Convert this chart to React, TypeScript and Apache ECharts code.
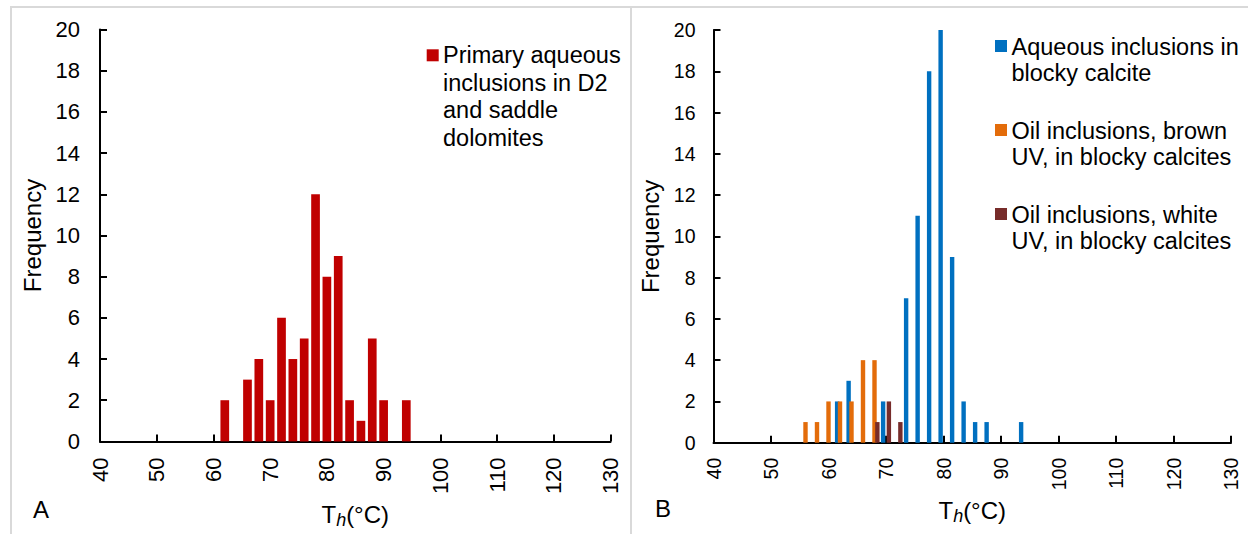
import React, { useEffect, useRef } from "react";
import * as echarts from "echarts";

// ---- Data (panel A) ----
const binsA = [62, 64, 66, 68, 70, 72, 74, 76, 78, 80, 82, 84, 86, 88, 90, 92, 94];
const countsA = [2, 0, 3, 4, 2, 6, 4, 5, 12, 8, 9, 2, 1, 5, 2, 0, 2];
const nameA = ["Primary aqueous", "inclusions in D2", "and saddle", "dolomites"];

// ---- Data (panel B) ----
const binsAqueous = [61.5, 63.5, 69.5, 73.5, 75.5, 77.5, 79.5, 81.5, 83.5, 85.5, 87.5, 93.5];
const countsAqueous = [2, 3, 2, 7, 11, 18, 20, 9, 2, 1, 1, 1];
const binsBrown = [56, 58, 60, 62, 64, 66, 68];
const countsBrown = [1, 1, 2, 2, 2, 4, 4];
const binsWhite = [68.5, 70.5, 72.5];
const countsWhite = [1, 2, 1];
const namesB = [
  ["Aqueous inclusions in", "blocky calcite"],
  ["Oil inclusions, brown", "UV, in blocky calcites"],
  ["Oil inclusions, white", "UV, in blocky calcites"],
];

// ---- Axes ----
const xMin = 40;
const xMax = 130;
const xStep = 10;
const yMin = 0;
const yMax = 20;
const yStep = 2;
const xTitle = "{a|T}{b|h}{a|(°C)}";
const yTitle = "Frequency";
const panelLabels = ["A", "B"];

const colorA = "#C00000";
const colorsB = ["#0070C0", "#E36C0A", "#772C2A"];
const FONT = "'Liberation Sans', Arial, sans-serif";

const pairs = (xs: number[], ys: number[]) => xs.map((x, i) => [x, ys[i]]);

export default function App() {
  const ref = useRef<HTMLDivElement>(null);
  useEffect(() => {
    if (!ref.current) return;
    const chart = echarts.init(ref.current, null, { renderer: "svg" });

    const mkX = (gridIndex: number, fs: number, margin: number, gap: number) => ({
      type: "value",
      gridIndex,
      min: xMin,
      max: xMax,
      interval: xStep,
      axisLine: { show: true, onZero: false, lineStyle: { color: "#000", width: 2 } },
      axisTick: { show: true, inside: true, length: 7, lineStyle: { color: "#000", width: 2 } },
      splitLine: { show: false },
      axisLabel: { rotate: 90, fontSize: fs, color: "#000", fontFamily: FONT, margin },
      name: xTitle,
      nameLocation: "middle",
      nameGap: gap,
      nameTextStyle: {
        fontFamily: FONT,
        rich: {
          a: { fontSize: 24, color: "#000", lineHeight: 30, verticalAlign: "middle", fontFamily: FONT },
          b: { fontSize: 18, color: "#000", fontStyle: "italic", lineHeight: 10, verticalAlign: "bottom", fontFamily: FONT },
        },
      },
    });
    const mkY = (gridIndex: number, fs: number, margin: number, gap: number) => ({
      type: "value",
      gridIndex,
      min: yMin,
      max: yMax,
      interval: yStep,
      axisLine: { show: true, lineStyle: { color: "#000", width: 2 } },
      axisTick: { show: true, inside: true, length: 7, lineStyle: { color: "#000", width: 2 } },
      splitLine: { show: false },
      axisLabel: { fontSize: fs, color: "#000", fontFamily: FONT, margin },
      name: yTitle,
      nameLocation: "middle",
      nameRotate: 90,
      nameGap: gap,
      nameTextStyle: { fontSize: 24, color: "#000", fontFamily: FONT },
    });

    const legendB = namesB.map((lines, i) => [
      {
        type: "rect",
        shape: { x: 995, y: 40 + i * 84, width: 12, height: 12 },
        style: { fill: colorsB[i] },
      },
      {
        type: "text",
        x: 1011.5,
        y: 34 + i * 84,
        style: {
          text: lines.join("\n"),
          fontSize: 23.5,
          lineHeight: 26,
          fontFamily: FONT,
          fill: "#000",
          verticalAlign: "top",
        },
      },
    ]).flat();

    chart.setOption({
      animation: false,
      backgroundColor: "#fff",
      grid: [
        { left: 100, top: 29.6, width: 510.5, height: 416.1 },
        { left: 713.5, top: 30, width: 517.5, height: 412.7 },
      ],
      xAxis: [mkX(0, 22, 16, 54), mkX(1, 19.5, 15, 52.5)],
      yAxis: [mkY(0, 22, 20, 56), mkY(1, 19.5, 18, 51.5)],
      series: [
        {
          type: "bar",
          name: nameA.join(" "),
          xAxisIndex: 0,
          yAxisIndex: 0,
          data: pairs(binsA, countsA),
          barWidth: 8.7,
          itemStyle: { color: colorA },
        },
        {
          type: "bar",
          name: namesB[0].join(" "),
          xAxisIndex: 1,
          yAxisIndex: 1,
          data: pairs(binsAqueous, countsAqueous),
          barWidth: 4.4,
          barGap: "-100%",
          itemStyle: { color: colorsB[0] },
        },
        {
          type: "bar",
          name: namesB[1].join(" "),
          xAxisIndex: 1,
          yAxisIndex: 1,
          data: pairs(binsBrown, countsBrown),
          barWidth: 4.4,
          barGap: "-100%",
          itemStyle: { color: colorsB[1] },
        },
        {
          type: "bar",
          name: namesB[2].join(" "),
          xAxisIndex: 1,
          yAxisIndex: 1,
          data: pairs(binsWhite, countsWhite),
          barWidth: 4.4,
          barGap: "-100%",
          itemStyle: { color: colorsB[2] },
        },
      ],
      graphic: [
        {
          type: "rect",
          shape: { x: 11, y: 7, width: 620, height: 600 },
          style: { fill: "none", stroke: "#D9D9D9", lineWidth: 2 },
          silent: true,
        },
        {
          type: "rect",
          shape: { x: 631, y: 7, width: 700, height: 600 },
          style: { fill: "none", stroke: "#D9D9D9", lineWidth: 2 },
          silent: true,
        },
        {
          type: "rect",
          shape: { x: 426.7, y: 49.3, width: 12, height: 12 },
          style: { fill: colorA },
        },
        {
          type: "text",
          x: 443,
          y: 41,
          style: {
            text: nameA.join("\n"),
            fontSize: 23.5,
            lineHeight: 27.7,
            fontFamily: FONT,
            fill: "#000",
            verticalAlign: "top",
          },
        },
        ...legendB,
        {
          type: "text",
          x: 33,
          y: 497,
          style: { text: panelLabels[0], fontSize: 24, fontFamily: FONT, fill: "#000" },
        },
        {
          type: "text",
          x: 655,
          y: 496,
          style: { text: panelLabels[1], fontSize: 24, fontFamily: FONT, fill: "#000" },
        },
      ],
    });
    return () => chart.dispose();
  }, []);
  return (
    <div
      ref={ref}
      style={{ position: "absolute", left: 0, top: 0, width: 1248, height: 534, background: "#fff" }}
    />
  );
}
